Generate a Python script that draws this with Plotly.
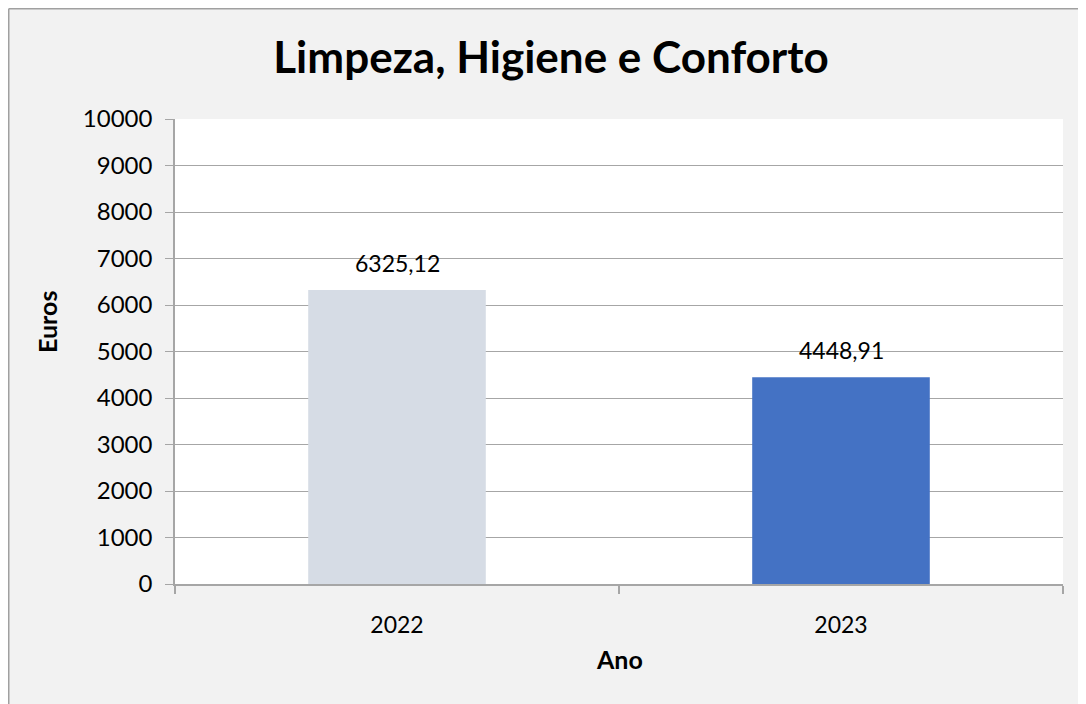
import plotly.graph_objects as go

categories = ["2022", "2023"]
values = [6325.12, 4448.91]
bar_colors = ["#d6dce5", "#4472c4"]
title_text = "Limpeza, Higiene e Conforto"
x_title = "Ano"
y_title = "Euros"

W, H = 1086, 704
L, R, T, B = 167, 31, 111, 128
pw = W - L - R
ph = H - T - B

FONT = "Lato, Carlito, Calibri, sans-serif"
GRID = "#a6a6a6"

fig = go.Figure()
fig.add_trace(go.Bar(
    x=list(range(len(categories))), y=values, marker=dict(color=bar_colors, line=dict(width=0)),
    width=0.4, hoverinfo="skip",
))

for i, v in enumerate(values):
    fig.add_annotation(x=i, y=v, text=f"{v:.2f}".replace(".", ","), showarrow=False,
                       yanchor="middle", yshift=27, font=dict(size=23, color="#000000", family=FONT))

def px_x(p):
    return (p - L) / pw

def px_y(p):
    return 1 - (p - T) / ph

# axis titles placed as in the reference
fig.add_annotation(xref="paper", yref="paper", x=px_x(39), y=px_y(314), text="<b>" + y_title + "</b>",
                   textangle=-90, showarrow=False, xanchor="center", yanchor="middle",
                   font=dict(size=25, family=FONT, color="#000000"))
fig.add_annotation(xref="paper", yref="paper", x=px_x(L + pw / 2), y=px_y(651), text="<b>" + x_title + "</b>",
                   showarrow=False, xanchor="center", yanchor="middle",
                   font=dict(size=25, family=FONT, color="#000000"))

# chart outer border (top and left visible)
fig.add_shape(type="line", xref="paper", yref="paper", x0=px_x(0.75), x1=px_x(W + 5),
              y0=px_y(0.75), y1=px_y(0.75), line=dict(color="#a0a0a0", width=1.5))
fig.add_shape(type="line", xref="paper", yref="paper", x0=px_x(0.75), x1=px_x(0.75),
              y0=px_y(0.75), y1=px_y(H + 5), line=dict(color="#a0a0a0", width=1.5))

fig.update_layout(
    width=W, height=H,
    margin=dict(l=L, r=R, t=T, b=B, pad=0, autoexpand=False),
    paper_bgcolor="#f2f2f2", plot_bgcolor="#ffffff",
    showlegend=False,
    font=dict(family=FONT, color="#000000"),
    title=dict(text="<b>" + title_text + "</b>", x=0.5, xanchor="center", y=1 - 50 / H, yanchor="middle",
               font=dict(size=44, family=FONT, color="#000000")),
)
fig.update_yaxes(
    range=[0, 10000], dtick=1000, tickformat="d",
    showgrid=True, gridcolor=GRID, gridwidth=1,
    showline=True, linecolor=GRID, linewidth=1.5,
    ticks="outside", ticklen=8, tickcolor=GRID, tickwidth=1,
    tickfont=dict(size=24, color="#000000", family=FONT),
    ticklabelstandoff=8,
    zeroline=False, automargin=False,
    fixedrange=True,
)
fig.update_xaxes(
    range=[-0.5, len(categories) - 0.5],
    tickmode="array", tickvals=list(range(len(categories))), ticktext=categories,
    showline=True, linecolor=GRID, linewidth=1.5,
    showgrid=False, zeroline=False,
    tickfont=dict(size=23, color="#000000", family=FONT), tickangle=0,
    ticks="", ticklabelstandoff=20, automargin=False,
    minor=dict(tickmode="array", tickvals=[-0.5, 0.5, 1.5], ticks="outside", ticklen=8,
               tickcolor=GRID, tickwidth=1.5, showgrid=False),
    fixedrange=True,
)

fig.write_html("out.html", post_script="document.body.style.overflow='hidden';")
